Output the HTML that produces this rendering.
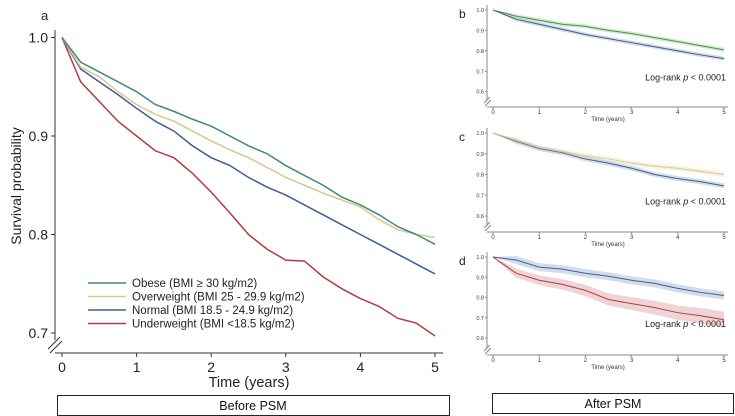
<!DOCTYPE html>
<html><head><meta charset="utf-8"><style>
body{margin:0;background:#fff;width:735px;height:416px;overflow:hidden;font-family:"Liberation Sans",Arial,sans-serif}
svg{display:block}
</style></head><body>
<svg id="s" width="735" height="416" xmlns="http://www.w3.org/2000/svg"></svg>
<script>
const times=[0,0.25,0.5,0.75,1,1.25,1.5,1.75,2,2.25,2.5,2.75,3,3.25,3.5,3.75,4,4.25,4.5,4.75,5];
const obese=[1,.975,.965,.955,.945,.932,.925,.917,.91,.9,.89,.882,.87,.86,.85,.838,.83,.82,.808,.8,.79];
const overweight=[1,.97,.96,.945,.932,.922,.915,.905,.895,.886,.878,.868,.858,.85,.842,.835,.828,.815,.805,.8,.797];
const normal=[1,.968,.955,.942,.928,.915,.905,.89,.878,.87,.858,.848,.84,.83,.82,.81,.8,.79,.78,.77,.76];
const underweight=[1,.955,.935,.915,.9,.885,.878,.862,.843,.822,.8,.785,.774,.773,.757,.745,.735,.727,.715,.71,.697];
const legendLabels=["Obese (BMI ≥ 30 kg/m2)","Overweight (BMI 25 - 29.9 kg/m2)","Normal (BMI 18.5 - 24.9 kg/m2)","Underweight (BMI <18.5 kg/m2)"];
const mainYTicks=[1.0,0.9,0.8,0.7];
const xTicks=[0,1,2,3,4,5];
const smallYTicks=[1.0,0.9,0.8,0.7,0.6];
const psmTimes=[0,0.5,1,1.5,2,2.5,3,3.5,4,4.5,5];
const bObese=[1,.97,.95,.93,.92,.9,.885,.865,.845,.825,.805];
const bNormal=[1,.955,.93,.905,.88,.86,.84,.82,.8,.78,.762];
const cOver=[1,.965,.93,.91,.89,.875,.855,.84,.83,.815,.8];
const cNormal=[1,.96,.925,.905,.875,.855,.83,.8,.78,.765,.745];
const dNormal=[1,.985,.95,.94,.92,.905,.885,.87,.845,.825,.81];
const dUnder=[1,.92,.885,.865,.835,.79,.77,.75,.725,.71,.69];
const bandB=0.01,bandC=0.012,bandD=0.02;

const NS="http://www.w3.org/2000/svg",S=document.getElementById('s');
function el(t,a,txt,p){const e=document.createElementNS(NS,t);for(const k in a)e.setAttribute(k,a[k]);if(txt!=null)e.textContent=txt;(p||S).appendChild(e);return e;}
const C={ob:"#3d8a7c",ov:"#d6c98c",no:"#3b5e95",un:"#b23b42",gr:"#3e9a3e"};

const mx=t=>62+t*(435-62)/5, my=v=>37.5+(1-v)*(333-37.5)/0.3;
const g=el('g',{});  
el('text',{x:41,y:20,'font-size':13,fill:'#222'},'a',g);
el('line',{x1:55,y1:30,x2:55,y2:340,stroke:'#333','stroke-width':1},g);
el('line',{x1:55,y1:353,x2:443,y2:353,stroke:'#333','stroke-width':1},g);
el('path',{d:'M48 349 L60 337 M50 353 L62 341',stroke:'#333','stroke-width':1,fill:'none'},g);
mainYTicks.forEach(v=>{el('line',{x1:51,y1:my(v),x2:55,y2:my(v),stroke:'#333'},g);
 const t=el('text',{x:48,y:my(v)+5,'font-size':14,'text-anchor':'end',fill:'#222'},v.toFixed(1),g);});
xTicks.forEach(v=>{el('line',{x1:mx(v),y1:353,x2:mx(v),y2:357,stroke:'#333'},g);
 const t=el('text',{x:mx(v),y:372,'font-size':14,'text-anchor':'middle',fill:'#222'},v,g);});
const yt=el('text',{x:0,y:0,'font-size':14,'text-anchor':'middle',fill:'#222',transform:'translate(21,186) rotate(-90)'},'Survival probability',g);

const xt=el('text',{x:249,y:387,'font-size':14.5,'text-anchor':'middle',fill:'#222'},'Time (years)',g);

const series=[[obese,C.ob],[overweight,C.ov],[normal,C.no],[underweight,C.un]];
const names=['obese','overweight','normal','underweight'];
[3,2,1,0].forEach(i=>{const d=series[i][0],c=series[i][1];
 const p=el('polyline',{points:d.map((v,j)=>mx(times[j])+','+my(v)).join(' '),fill:'none',stroke:c,'stroke-width':1.5},g);
 });
legendLabels.forEach((l,i)=>{const y=283+i*13.5;
 el('line',{x1:88,y1:y,x2:126,y2:y,stroke:series[i][1],'stroke-width':1.5},g);
 const t=el('text',{x:132,y:y+4,'font-size':11.5,fill:'#222'},l,g);});

function panel(letter,y10,y06,xAxisY,lines,band,name){
 const pg=el('g',{});
 const px=t=>493+t*(724-493)/5, py=v=>y10+(1-v)*(y06-y10)/0.4;
 el('text',{x:459,y:y10+8,'font-size':12,fill:'#222'},letter,pg);
 el('line',{x1:487,y1:y10-5,x2:487,y2:xAxisY-7,stroke:'#888'},pg);
 el('line',{x1:487,y1:xAxisY,x2:728,y2:xAxisY,stroke:'#888'},pg);
 el('path',{d:`M484 ${xAxisY-4} L490 ${xAxisY-10} M485 ${xAxisY-1} L491 ${xAxisY-7}`,stroke:'#888',fill:'none'},pg);
 smallYTicks.forEach(v=>{el('line',{x1:485,y1:py(v),x2:487,y2:py(v),stroke:'#888'},pg);
  el('text',{x:484,y:py(v)+2,'font-size':5.5,'text-anchor':'end',fill:'#333'},v.toFixed(1),pg);});
 xTicks.forEach(v=>{el('line',{x1:px(v),y1:xAxisY,x2:px(v),y2:xAxisY+2,stroke:'#888'},pg);
  el('text',{x:px(v),y:xAxisY+7,'font-size':6,'text-anchor':'middle',fill:'#333'},v,pg);});
 el('text',{x:608,y:xAxisY+14,'font-size':6,'text-anchor':'middle',fill:'#333'},'Time (years)',pg);
 lines.forEach(([d,c,grow])=>{
  const up=d.map((v,j)=>px(psmTimes[j])+','+py(v+band*(grow?1+j/10:1)*(j?1:0))).join(' ');
  const lo=d.map((v,j)=>px(psmTimes[j])+','+py(v-band*(grow?1+j/10:1)*(j?1:0))).reverse().join(' ');
  el('polygon',{points:up+' '+lo,fill:c,'fill-opacity':0.22,stroke:'none'},pg);
  const p=el('polyline',{points:d.map((v,j)=>px(psmTimes[j])+','+py(v)).join(' '),fill:'none',stroke:c,'stroke-width':1},pg);
  });
 const lt=el('text',{x:726,y:py(0.655),'font-size':9,'text-anchor':'end',fill:'#222'},null,pg);
 
 el('tspan',{},'Log-rank ',lt);el('tspan',{'font-style':'italic'},'p',lt);el('tspan',{},' < 0.0001',lt);
}
panel('b',10,91.7,107,[[bNormal,C.no],[bObese,C.gr]],bandB,'panel-b');
panel('c',133,216,232,[[cNormal,C.no],[cOver,C.ov]],bandC,'panel-c');
panel('d',257,338,355,[[dNormal,C.no],[dUnder,C.un,1]],bandD,'panel-d');

const br=el('rect',{x:57.5,y:395.5,width:392,height:20,fill:'#fff',stroke:'#222'});

const bt=el('text',{x:253,y:410,'font-size':12.5,'text-anchor':'middle',fill:'#111'},'Before PSM');

const ar=el('rect',{x:492.5,y:393.5,width:241,height:20,fill:'#fff',stroke:'#222'});

const at=el('text',{x:613,y:408,'font-size':12.5,'text-anchor':'middle',fill:'#111'},'After PSM');

</script>
</body></html>
